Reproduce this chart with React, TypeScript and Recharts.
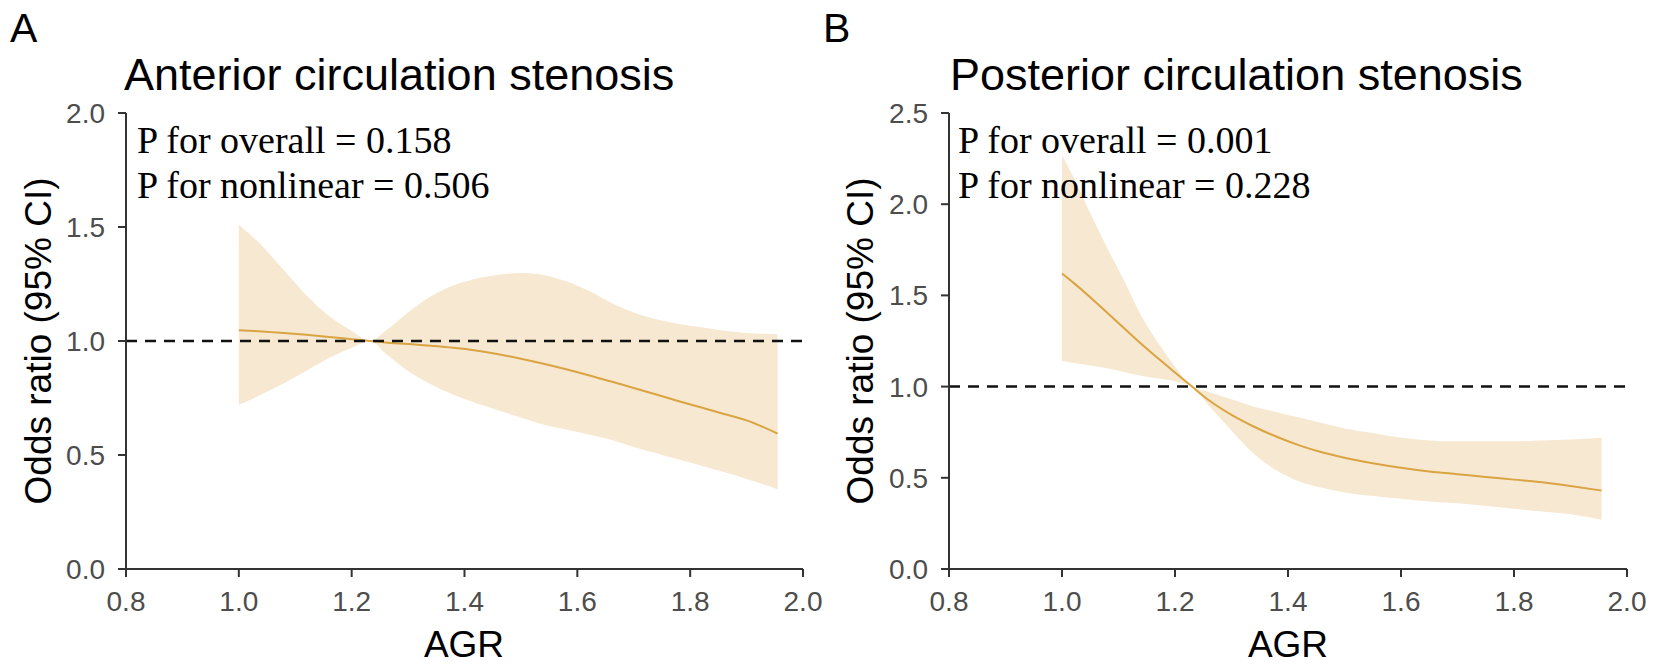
import React from "react";
import { ComposedChart, Area, Line, XAxis, YAxis, ReferenceLine } from "recharts";

// Panel A: Anterior circulation stenosis
const agrA = [1.0, 1.04, 1.08, 1.12, 1.16, 1.2, 1.233, 1.26, 1.3, 1.34, 1.38, 1.42, 1.46, 1.5, 1.54, 1.58, 1.62, 1.66, 1.7, 1.74, 1.78, 1.82, 1.86, 1.9, 1.955];
const orA = [1.047, 1.042, 1.035, 1.027, 1.018, 1.008, 1.0, 0.993, 0.987, 0.979, 0.97, 0.958, 0.942, 0.922, 0.9, 0.876, 0.85, 0.822, 0.794, 0.765, 0.736, 0.708, 0.68, 0.652, 0.594];
const upperA = [1.51, 1.42, 1.31, 1.2, 1.11, 1.045, 1.0, 1.045, 1.125, 1.195, 1.243, 1.273, 1.291, 1.298, 1.29, 1.262, 1.22, 1.168, 1.125, 1.095, 1.075, 1.06, 1.045, 1.035, 1.03];
const lowerA = [0.72, 0.765, 0.815, 0.87, 0.925, 0.97, 1.0, 0.945, 0.868, 0.81, 0.765, 0.728, 0.695, 0.665, 0.634, 0.612, 0.59, 0.567, 0.535, 0.508, 0.48, 0.453, 0.425, 0.395, 0.35];

// Panel B: Posterior circulation stenosis
const agrB = [1.0, 1.02, 1.05, 1.08, 1.11, 1.14, 1.17, 1.2, 1.23, 1.26, 1.3, 1.34, 1.38, 1.42, 1.46, 1.5, 1.55, 1.6, 1.65, 1.7, 1.75, 1.8, 1.85, 1.9, 1.955];
const orB = [1.62, 1.57, 1.49, 1.405, 1.32, 1.235, 1.155, 1.077, 1.0, 0.925, 0.845, 0.78, 0.725, 0.678, 0.64, 0.61, 0.58, 0.555, 0.535, 0.52, 0.505, 0.49, 0.475, 0.455, 0.43];
const upperB = [2.27, 2.15, 1.95, 1.76, 1.58, 1.39, 1.24, 1.11, 1.0, 0.97, 0.93, 0.89, 0.86, 0.83, 0.8, 0.77, 0.745, 0.72, 0.705, 0.7, 0.7, 0.7, 0.705, 0.71, 0.72];
const lowerB = [1.14, 1.13, 1.115, 1.1, 1.08, 1.06, 1.045, 1.03, 1.0, 0.895, 0.76, 0.63, 0.54, 0.48, 0.445, 0.42, 0.4, 0.385, 0.37, 0.36, 0.345, 0.33, 0.315, 0.3, 0.27];

const xTicks = [0.8, 1.0, 1.2, 1.4, 1.6, 1.8, 2.0];
const yTicksA = [0, 0.5, 1.0, 1.5, 2.0];
const yTicksB = [0, 0.5, 1.0, 1.5, 2.0, 2.5];

const titleA = "Anterior circulation stenosis";
const titleB = "Posterior circulation stenosis";
const pTextA = ["P for overall = 0.158", "P for nonlinear = 0.506"];
const pTextB = ["P for overall = 0.001", "P for nonlinear = 0.228"];

const build = (xs: number[], est: number[], lo: number[], hi: number[]) =>
  xs.map((x, i) => ({ x, est: est[i], band: [lo[i], hi[i]] }));

const dataA = build(agrA, orA, lowerA, upperA);
const dataB = build(agrB, orB, lowerB, upperB);

const SANS = "'Liberation Sans', Arial, sans-serif";
const SERIF = "'Liberation Serif', 'Times New Roman', serif";
const tickStyle = { fill: "#4d4d4d", fontSize: 28, fontFamily: SANS };

function Panel({ data, yMax, yTicks, yWidth, rightMargin }: any) {
  return (
    <ComposedChart
      width={827}
      height={667}
      data={data}
      margin={{ top: 113, right: rightMargin, bottom: 58, left: 0 }}
    >
      <XAxis
        type="number"
        dataKey="x"
        domain={[0.8, 2.0]}
        ticks={xTicks}
        tickFormatter={(v: number) => v.toFixed(1)}
        allowDataOverflow
        height={40}
        tick={tickStyle}
        tickSize={8}
        tickMargin={14}
        axisLine={{ stroke: "#333", strokeWidth: 2 }}
        tickLine={{ stroke: "#333", strokeWidth: 2 }}
      />
      <YAxis
        type="number"
        domain={[0, yMax]}
        ticks={yTicks}
        tickFormatter={(v: number) => v.toFixed(1)}
        allowDataOverflow
        width={yWidth}
        tick={tickStyle}
        tickSize={8}
        tickMargin={13}
        axisLine={{ stroke: "#333", strokeWidth: 2 }}
        tickLine={{ stroke: "#333", strokeWidth: 2 }}
      />
      <Area
        type="monotone"
        dataKey="band"
        stroke="none"
        fill="#F7E8D1"
        fillOpacity={1}
        isAnimationActive={false}
        activeDot={false}
      />
      <Line
        type="monotone"
        dataKey="est"
        stroke="#D9A441"
        strokeWidth={2}
        dot={false}
        activeDot={false}
        isAnimationActive={false}
      />
      <ReferenceLine y={1} stroke="#111" strokeWidth={2.5} strokeDasharray="11 8" />
    </ComposedChart>
  );
}

export default function App() {
  return (
    <div style={{ position: "absolute", left: 0, top: 0, width: 1654, height: 667, background: "#fff" }}>
      <div style={{ position: "absolute", left: 0, top: 0 }}>
        <Panel data={dataA} yMax={2} yTicks={yTicksA} yWidth={126} rightMargin={24} />
      </div>
      <div style={{ position: "absolute", left: 827, top: 0 }}>
        <Panel data={dataB} yMax={2.5} yTicks={yTicksB} yWidth={122} rightMargin={27} />
      </div>
      <svg
        width={1654}
        height={667}
        style={{ position: "absolute", left: 0, top: 0, pointerEvents: "none" }}
      >
        <text x={10} y={42} fontSize={41} fontFamily={SANS} fill="#000">A</text>
        <text x={823} y={42} fontSize={41} fontFamily={SANS} fill="#000">B</text>
        <text x={124} y={90} fontSize={45} fontFamily={SANS} fill="#000">{titleA}</text>
        <text x={950} y={90} fontSize={45} fontFamily={SANS} fill="#000">{titleB}</text>
        <text x={137} y={153} fontSize={38} fontFamily={SERIF} fill="#000">{pTextA[0]}</text>
        <text x={137} y={198} fontSize={38} fontFamily={SERIF} fill="#000">{pTextA[1]}</text>
        <text x={958} y={153} fontSize={38} fontFamily={SERIF} fill="#000">{pTextB[0]}</text>
        <text x={958} y={198} fontSize={38} fontFamily={SERIF} fill="#000">{pTextB[1]}</text>
        <text transform="translate(51,341) rotate(-90)" textAnchor="middle" fontSize={37} fontFamily={SANS} fill="#000">Odds ratio (95% CI)</text>
        <text transform="translate(873,341) rotate(-90)" textAnchor="middle" fontSize={37} fontFamily={SANS} fill="#000">Odds ratio (95% CI)</text>
        <text x={464} y={657} textAnchor="middle" fontSize={37} fontFamily={SANS} fill="#000">AGR</text>
        <text x={1288} y={657} textAnchor="middle" fontSize={37} fontFamily={SANS} fill="#000">AGR</text>
      </svg>
    </div>
  );
}
